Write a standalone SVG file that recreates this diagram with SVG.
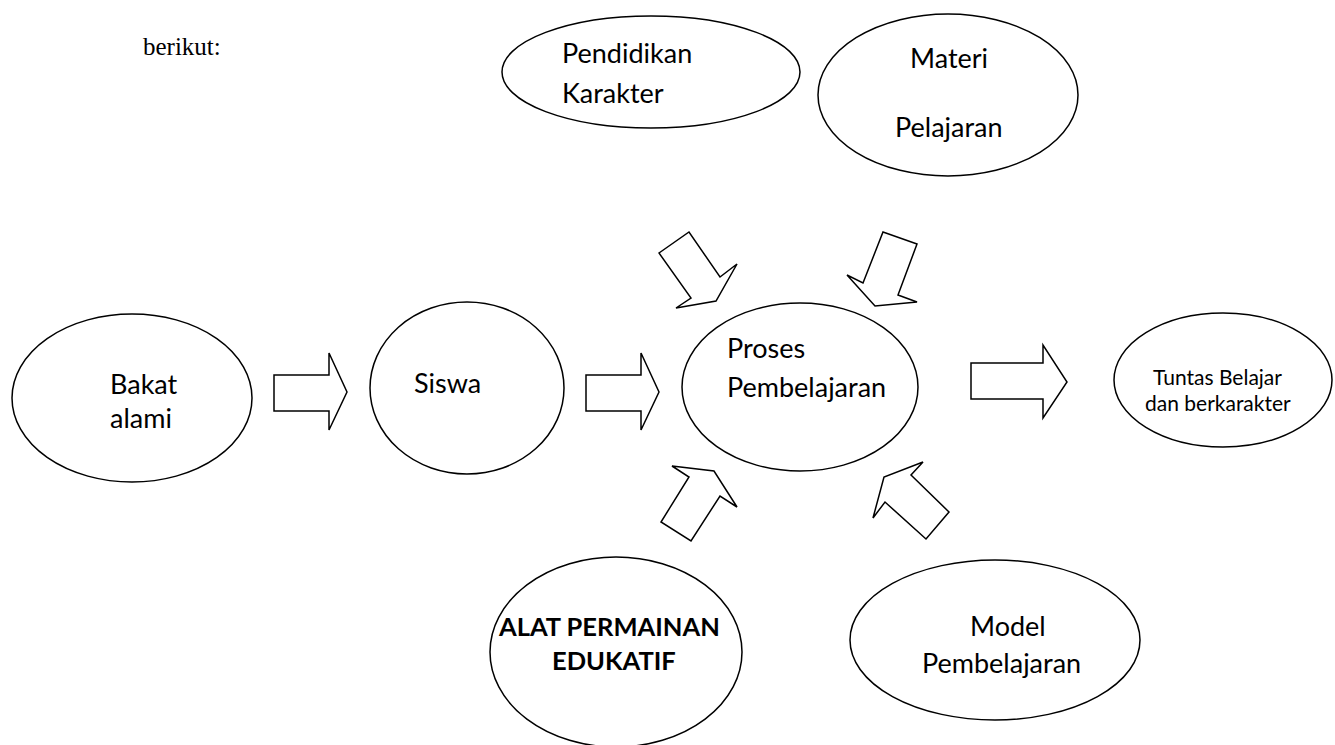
<svg xmlns="http://www.w3.org/2000/svg" width="1335" height="745" viewBox="0 0 1335 745">
<style>
.node ellipse{fill:#fff;stroke:#000;stroke-width:1.5}
.t{font-family:Lato,"Liberation Sans",sans-serif;font-size:27px;fill:#000}
.ts{font-family:Lato,"Liberation Sans",sans-serif;font-size:21px;fill:#000}
.tb{font-family:Lato,"Liberation Sans",sans-serif;font-size:25.5px;font-weight:bold;fill:#000}
.arr polygon{fill:#fff;stroke:#000;stroke-width:1.5;stroke-linejoin:miter}
</style>
<rect width="1335" height="745" fill="#fff"/>
<text x="143" y="55" font-family="Liberation Serif,serif" font-size="25">berikut:</text>
<g id="pendidikan-karakter" class="node">
<ellipse cx="651" cy="72" rx="149" ry="56"/>
<text class="t" x="562" y="63">Pendidikan</text>
<text class="t" x="562" y="103">Karakter</text>
</g>
<g id="materi-pelajaran" class="node">
<ellipse cx="948" cy="95" rx="130" ry="81"/>
<text class="t" x="910" y="68">Materi</text>
<text class="t" x="895" y="137">Pelajaran</text>
</g>
<g id="bakat-alami" class="node">
<ellipse cx="132" cy="398" rx="120" ry="84"/>
<text class="t" x="110" y="394">Bakat</text>
<text class="t" x="110" y="428">alami</text>
</g>
<g id="siswa" class="node">
<ellipse cx="467" cy="388" rx="97" ry="86"/>
<text class="t" x="414" y="393">Siswa</text>
</g>
<g id="proses-pembelajaran" class="node">
<ellipse cx="800" cy="387" rx="118" ry="84"/>
<text class="t" x="727" y="358">Proses</text>
<text class="t" x="727" y="397">Pembelajaran</text>
</g>
<g id="tuntas" class="node">
<ellipse cx="1223" cy="380" rx="109" ry="67"/>
<text class="ts" x="1153" y="385">Tuntas Belajar</text>
<text class="ts" x="1145" y="411">dan berkarakter</text>
</g>
<g id="alat-permainan" class="node">
<ellipse cx="616" cy="652" rx="126" ry="95"/>
<text class="tb" x="499" y="636">ALAT PERMAINAN</text>
<text class="tb" x="552" y="670">EDUKATIF</text>
</g>
<g id="model-pembelajaran" class="node">
<ellipse cx="995" cy="640" rx="145" ry="80"/>
<text class="t" x="970" y="636">Model</text>
<text class="t" x="922" y="673">Pembelajaran</text>
</g>
<g id="connectors" class="arr">
<polygon points="274,375 329,375 329,353 347,392 329,430 329,411 274,411"/>
<polygon points="586,375 641,375 641,353 659,392 641,430 641,411 586,411"/>
<polygon points="971,363 1043,363 1043,345 1067,382 1043,418 1043,399 971,399"/>
<polygon points="659,253 689,232 720,277 737,264 716,301 676,308 691,298"/>
<polygon points="883,232 917,244 898,295 917,302 875,306 847,275 863,283"/>
<polygon points="672,466 714,471 737,507 720,496 691,541 661,522 689,477"/>
<polygon points="923,462 911,475 949,512 926,539 885,502 873,518 884,477"/>
</g>
</svg>
